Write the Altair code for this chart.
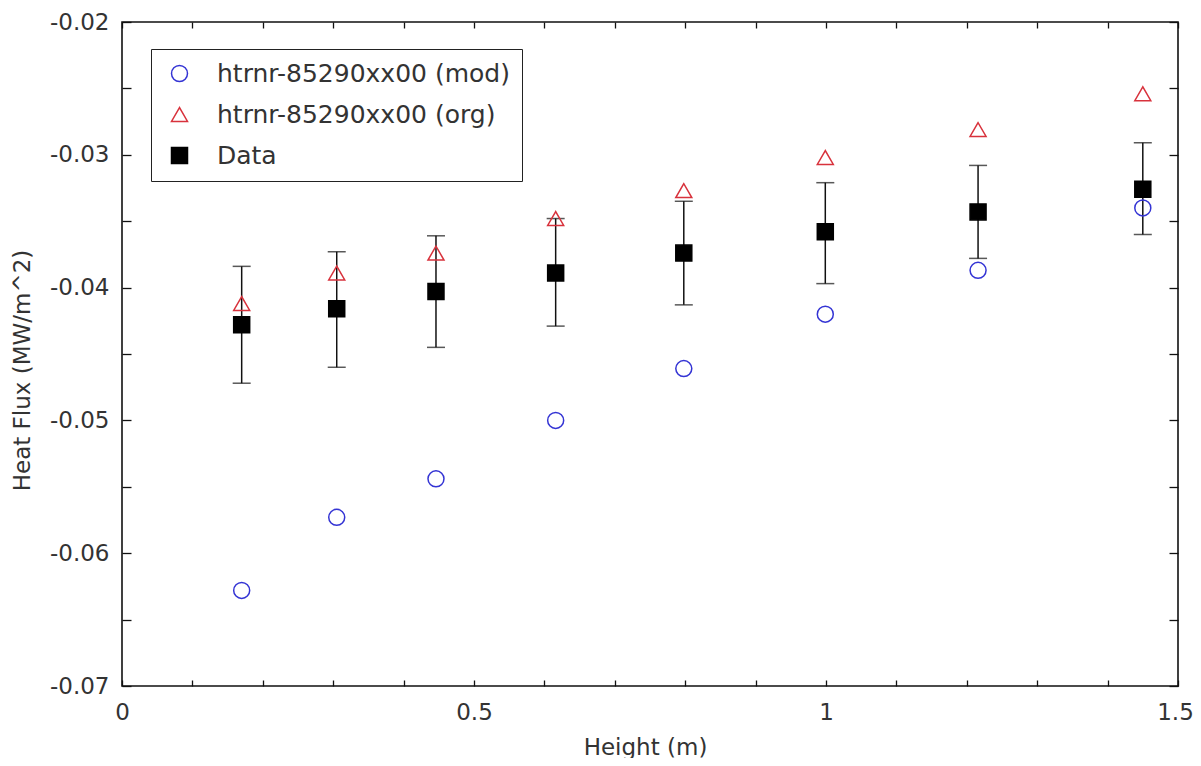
import altair as alt
import pandas as pd

# ---- data ----
height = [0.170, 0.305, 0.446, 0.616, 0.798, 0.999, 1.216, 1.450]
flux_mod = [-0.0628, -0.0573, -0.0544, -0.0500, -0.0461, -0.0420, -0.0387, -0.0340]
flux_org = [-0.0412, -0.0389, -0.0374, -0.0348, -0.0327, -0.0302, -0.0281, -0.0254]
flux_data = [-0.0428, -0.0416, -0.0403, -0.0389, -0.0374, -0.0358, -0.0343, -0.0326]
err_low = [-0.0472, -0.0460, -0.0445, -0.0429, -0.0413, -0.0397, -0.0378, -0.0360]
err_high = [-0.0384, -0.0373, -0.0361, -0.0348, -0.0335, -0.0321, -0.0308, -0.0291]

series_names = ["htrnr-85290xx00 (mod)", "htrnr-85290xx00 (org)", "Data"]
series_colors = ["#3434d4", "#d8323c", "#000000"]
series_fills = ["transparent", "transparent", "#000000"]
series_shapes = ["circle", "triangle-up", "square"]

x_labels = [0, 0.5, 1, 1.5]
x_ticks = [0, 0.1, 0.2, 0.3, 0.4, 0.5, 0.6, 0.7, 0.8, 0.9, 1.0, 1.1, 1.2, 1.3, 1.4, 1.5]
y_labels = [-0.07, -0.06, -0.05, -0.04, -0.03, -0.02]
y_ticks = [-0.07, -0.065, -0.06, -0.055, -0.05, -0.045, -0.04, -0.035,
           -0.03, -0.025, -0.02]

long_df = pd.DataFrame({
    "height": height * 3,
    "flux": flux_mod + flux_org + flux_data,
    "series": [s for s in series_names for _ in height],
})
err_df = pd.DataFrame({"height": height, "lo": err_low, "hi": err_high})

FONT = "DejaVu Sans"
TXT = "#333333"
xs = alt.Scale(domain=[0, 1.5], nice=False, zero=False)
ys = alt.Scale(domain=[-0.07, -0.02], nice=False, zero=False)

legend = alt.Legend(
    title=None, orient="none", legendX=29, legendY=27,
    strokeColor="#222222", padding=12, rowPadding=15,
    symbolSize=256, symbolStrokeWidth=1.5, symbolOffset=4,
    labelFont=FONT, labelFontSize=25, labelColor=TXT, labelOffset=25,
    labelLimit=0,
)

points = alt.Chart(long_df).mark_point(size=256, strokeWidth=1.5, opacity=1).encode(
    x=alt.X("height:Q", scale=xs, axis=alt.Axis(
        values=x_labels, labelExpr="toString(datum.value)", tickSize=0,
        domain=False, grid=False, labelPadding=15, labelFont=FONT,
        labelFontSize=23, labelColor=TXT, labelFlush=False,
        labelOffset={"condition": {"test": "datum.value == 1.5", "value": -3}, "value": 0},
        title="Height (m)", titleFont=FONT,
        titleFontSize=23, titleFontWeight="normal", titleColor=TXT,
        titleX=523, titleY=68, titleBaseline="alphabetic", titleAlign="center")),
    y=alt.Y("flux:Q", scale=ys, axis=alt.Axis(
        values=y_labels, labelExpr="toString(datum.value)", tickSize=0,
        domain=False, grid=False, labelPadding=13, labelFont=FONT,
        labelFontSize=23, labelColor=TXT, labelFlush=False,
        title="Heat Flux (MW/m^2)",
        titleFont=FONT, titleFontSize=23, titleFontWeight="normal",
        titleColor=TXT, titleX=-100, titleY=348, titleBaseline="middle",
        titleAlign="center")),
    shape=alt.Shape("series:N", scale=alt.Scale(domain=series_names, range=series_shapes), legend=legend),
    color=alt.Color("series:N", scale=alt.Scale(domain=series_names, range=series_colors), legend=legend),
    fill=alt.Fill("series:N", scale=alt.Scale(domain=series_names, range=series_fills), legend=legend),
)

tick_common = dict(labels=False, domain=False, grid=False, title=None,
                   tickColor="#111111", tickWidth=1.3)

bars = alt.Chart(err_df).mark_rule(color="#111111", strokeWidth=1.5).encode(
    x=alt.X("height:Q", scale=xs, axis=alt.Axis(values=x_ticks, orient="bottom", tickSize=6, offset=-6, **tick_common)),
    y=alt.Y("lo:Q", scale=ys, axis=alt.Axis(values=y_ticks, orient="left", tickSize=9, offset=-9, **tick_common)),
    y2="hi:Q",
)
caps_lo = alt.Chart(err_df).mark_tick(orient="horizontal", size=18, thickness=1.5, color="#111111").encode(
    x=alt.X("height:Q", scale=xs, axis=alt.Axis(values=x_ticks, orient="top", tickSize=6, offset=-6, **tick_common)),
    y=alt.Y("lo:Q", scale=ys, axis=alt.Axis(values=y_ticks, orient="right", tickSize=9, offset=-9, **tick_common)),
)
caps_hi = alt.Chart(err_df).mark_tick(orient="horizontal", size=18, thickness=1.5, color="#111111").encode(
    x=alt.X("height:Q", scale=xs, axis=None),
    y=alt.Y("hi:Q", scale=ys, axis=None),
)

chart = alt.layer(bars, caps_lo, caps_hi, points).resolve_axis(
    x="independent", y="independent"
).properties(
    width=1056, height=664,
    padding={"left": 114, "top": 14, "right": 15, "bottom": 72},
    autosize=alt.AutoSizeParams(type="none"),
    background="white",
).configure_view(stroke="#111111", strokeWidth=1.6)

chart.save("out.html", embed_options={"renderer": "svg", "actions": False})
